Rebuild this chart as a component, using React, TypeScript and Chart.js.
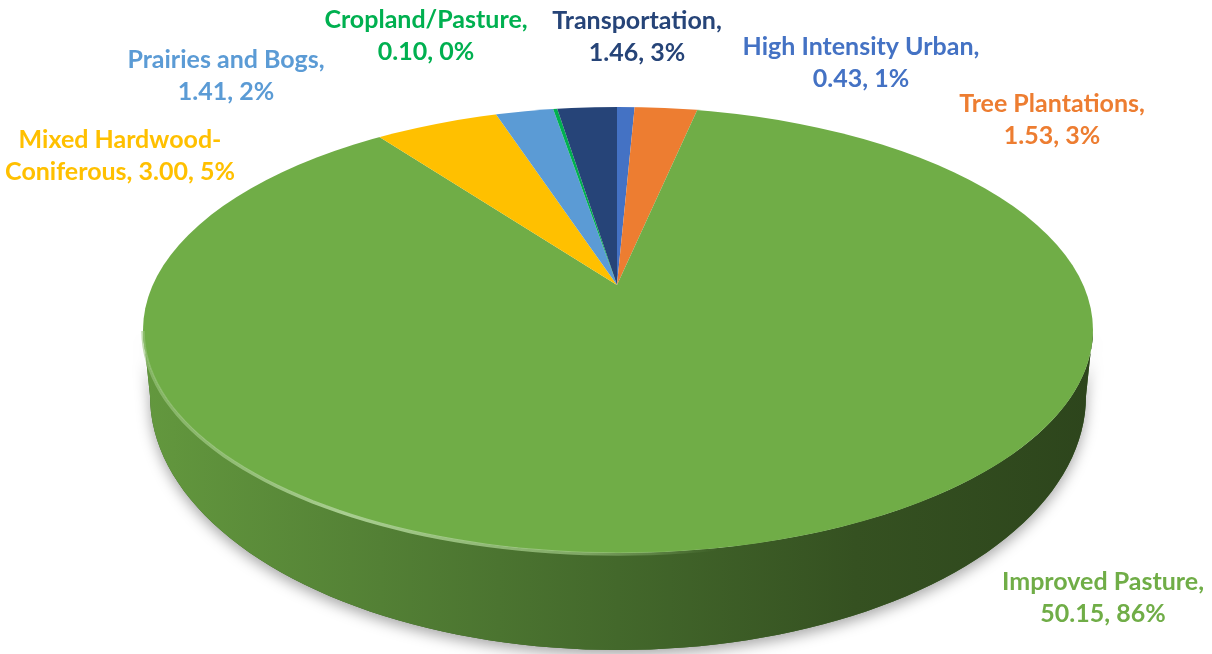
import { useEffect, useRef } from "react";
import { Chart, registerables } from "chart.js";

Chart.register(...registerables);

// ---- data ----
const CATEGORIES = [
  "High Intensity Urban",
  "Tree Plantations",
  "Improved Pasture",
  "Mixed Hardwood-Coniferous",
  "Prairies and Bogs",
  "Cropland/Pasture",
  "Transportation",
];
const VALUES = [0.43, 1.53, 50.15, 3.0, 1.41, 0.1, 1.46];
const COLORS = ["#4472C4", "#ED7D31", "#70AD47", "#FFC000", "#5B9BD5", "#00B050", "#264478"];

// ---- layout (not data) ----
const W = 1212;
const H = 654;
const TOP = { cx: 618, cy: 330, rx: 475, ry: 223 };
const APEX = { x: 617, y: 285 };
const OVERSIZE = 1.45;
const DEPTH_FRONT = 97;
const DEPTH_SIDE = 66;
const LABEL_FONT = "bold 25px Lato";
const LINE_GAP = 32;
// first-line baseline anchors (centre x, baseline y), same order as CATEGORIES
const LABEL_ANCHORS: [number, number][] = [
  [861, 55],
  [1052, 112],
  [1103, 590],
  [120, 148],
  [226, 68],
  [426, 28],
  [637, 29],
];

const TOTAL = VALUES.reduce((a, b) => a + b, 0);

function rgb(hex: string) {
  const n = parseInt(hex.slice(1), 16);
  return [(n >> 16) & 255, (n >> 8) & 255, n & 255];
}
function shade(hex: string, f: number) {
  const [r, g, b] = rgb(hex);
  return `rgb(${Math.round(r * f)},${Math.round(g * f)},${Math.round(b * f)})`;
}
function lighten(hex: string, f: number, a = 1) {
  const [r, g, b] = rgb(hex);
  return `rgba(${Math.round(r + (255 - r) * f)},${Math.round(g + (255 - g) * f)},${Math.round(
    b + (255 - b) * f
  )},${a})`;
}

function labelLines(i: number): string[] {
  const name = CATEGORIES[i];
  const pct = Math.round((VALUES[i] / TOTAL) * 100);
  const tail = `${VALUES[i].toFixed(2)}, ${pct}%`;
  const h = name.indexOf("-");
  if (h >= 0) return [name.slice(0, h + 1), `${name.slice(h + 1)}, ${tail}`];
  return [`${name},`, tail];
}

// ellipse parameter where a slice edge (chart angle) meets the rim
function rayParam(angle: number) {
  const qx = Math.cos(angle);
  const qy = Math.sin(angle);
  const px = (APEX.x - TOP.cx) / TOP.rx;
  const py = (APEX.y - TOP.cy) / TOP.ry;
  const a = qx * qx + qy * qy;
  const b = 2 * (px * qx + py * qy);
  const c = px * px + py * py - 1;
  const t = (-b + Math.sqrt(b * b - 4 * a * c)) / (2 * a);
  return Math.atan2(py + t * qy, px + t * qx);
}

const topPt = (p: number) => [TOP.cx + TOP.rx * Math.cos(p), TOP.cy + TOP.ry * Math.sin(p)];
const botPt = (p: number) => {
  const s = Math.max(0, Math.sin(p));
  const d = DEPTH_SIDE + (DEPTH_FRONT - DEPTH_SIDE) * s;
  return [TOP.cx + (TOP.rx - 7) * Math.cos(p), TOP.cy + TOP.ry * Math.sin(p) + d];
};

function wallPath(ctx: CanvasRenderingContext2D, p0: number, p1: number) {
  const N = 90;
  ctx.beginPath();
  for (let i = 0; i <= N; i++) {
    const [x, y] = topPt(p0 + ((p1 - p0) * i) / N);
    if (i === 0) ctx.moveTo(x, y);
    else ctx.lineTo(x, y);
  }
  for (let i = N; i >= 0; i--) {
    const [x, y] = botPt(p0 + ((p1 - p0) * i) / N);
    ctx.lineTo(x, y);
  }
  ctx.closePath();
}

function visibleIntervals(a0: number, a1: number): [number, number][] {
  let p0 = rayParam(a0);
  let p1 = rayParam(a1);
  let diff = p1 - p0;
  while (diff < 0) diff += Math.PI * 2;
  if (a1 - a0 >= Math.PI * 2 - 1e-9) diff = Math.PI * 2;
  p1 = p0 + diff;
  const out: [number, number][] = [];
  for (let k = -1; k <= 1; k++) {
    const lo = Math.max(p0, k * 2 * Math.PI);
    const hi = Math.min(p1, k * 2 * Math.PI + Math.PI);
    if (hi > lo) out.push([lo, hi]);
  }
  return out;
}

const pie3d = {
  id: "pie3d",
  beforeDatasetsDraw(chart: any) {
    const ctx: CanvasRenderingContext2D = chart.ctx;
    const meta = chart.getDatasetMeta(0);
    const arcs = meta.data;
    if (!arcs.length) return;

    // soft shadow under the body
    ctx.save();
    ctx.shadowColor = "rgba(0,0,0,0.35)";
    ctx.shadowBlur = 14;
    ctx.shadowOffsetY = 5;
    ctx.fillStyle = "#3a5f26";
    wallPath(ctx, 0, Math.PI);
    ctx.fill();
    ctx.restore();

    // side walls
    arcs.forEach((arc: any, i: number) => {
      const col = COLORS[i];
      visibleIntervals(arc.startAngle, arc.endAngle).forEach(([p0, p1]) => {
        const g = ctx.createLinearGradient(TOP.cx - TOP.rx, 0, TOP.cx + TOP.rx, 0);
        g.addColorStop(0, shade(col, 0.88));
        g.addColorStop(0.25, shade(col, 0.74));
        g.addColorStop(0.5, shade(col, 0.6));
        g.addColorStop(0.75, shade(col, 0.47));
        g.addColorStop(1, shade(col, 0.4));
        ctx.save();
        ctx.fillStyle = g;
        wallPath(ctx, p0, p1);
        ctx.fill();
        ctx.restore();
      });
    });

    // top face: clip to rim, map the pie circle onto the perspective ellipse
    const a0 = arcs[0];
    const r = a0.outerRadius;
    ctx.save();
    ctx.beginPath();
    ctx.ellipse(TOP.cx, TOP.cy, TOP.rx, TOP.ry, 0, 0, Math.PI * 2);
    ctx.clip();
    ctx.translate(APEX.x, APEX.y);
    ctx.scale((TOP.rx * OVERSIZE) / r, (TOP.ry * OVERSIZE) / r);
    ctx.translate(-a0.x, -a0.y);
  },
  afterDatasetsDraw(chart: any) {
    const ctx: CanvasRenderingContext2D = chart.ctx;
    ctx.restore();
    const arcs = chart.getDatasetMeta(0).data;
    // bevel highlight along the front rim
    arcs.forEach((arc: any, i: number) => {
      const col = COLORS[i];
      visibleIntervals(arc.startAngle, arc.endAngle).forEach(([p0, p1]) => {
        const g = ctx.createLinearGradient(TOP.cx - TOP.rx, 0, TOP.cx + 100, 0);
        g.addColorStop(0, lighten(col, 0.3, 0.6));
        g.addColorStop(0.35, lighten(col, 0.4, 1));
        g.addColorStop(0.75, lighten(col, 0.35, 0.65));
        g.addColorStop(1, lighten(col, 0.3, 0));
        ctx.save();
        ctx.strokeStyle = g;
        ctx.lineWidth = 3.5;
        ctx.filter = "blur(0.7px)";
        ctx.beginPath();
        const N = 90;
        for (let k = 0; k <= N; k++) {
          const [x, y] = topPt(p0 + ((p1 - p0) * k) / N);
          if (k === 0) ctx.moveTo(x, y + 1);
          else ctx.lineTo(x, y + 1);
        }
        ctx.stroke();
        ctx.restore();
      });
    });
  },
  afterDraw(chart: any) {
    const ctx: CanvasRenderingContext2D = chart.ctx;
    ctx.save();
    ctx.font = LABEL_FONT;
    ctx.textAlign = "center";
    ctx.textBaseline = "alphabetic";
    CATEGORIES.forEach((_, i) => {
      const [x, y] = LABEL_ANCHORS[i];
      ctx.fillStyle = COLORS[i];
      labelLines(i).forEach((t, k) => ctx.fillText(t, x, y + k * LINE_GAP));
    });
    ctx.restore();
  },
};

export default function App() {
  const ref = useRef<HTMLCanvasElement>(null);
  useEffect(() => {
    const chart = new Chart(ref.current as HTMLCanvasElement, {
      type: "pie",
      data: {
        labels: CATEGORIES,
        datasets: [
          {
            data: VALUES,
            backgroundColor: COLORS,
            borderWidth: 0,
          },
        ],
      },
      options: {
        responsive: false,
        animation: false,
        events: [],
        layout: { padding: 0 },
        plugins: {
          legend: { display: false },
          tooltip: { enabled: false },
        },
      },
      plugins: [pie3d],
    });
    return () => chart.destroy();
  }, []);
  return (
    <div style={{ position: "absolute", left: 0, top: 0, width: W, height: H, background: "#fff" }}>
      <canvas ref={ref} width={W} height={H} style={{ width: W, height: H, display: "block" }} />
    </div>
  );
}
